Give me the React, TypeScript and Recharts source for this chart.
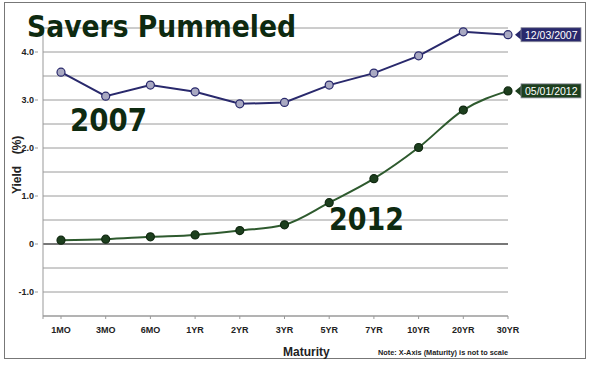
import React from 'react';
import { LineChart, Line, XAxis, YAxis, CartesianGrid, ReferenceLine, LabelList } from 'recharts';

const maturities = ['1MO', '3MO', '6MO', '1YR', '2YR', '3YR', '5YR', '7YR', '10YR', '20YR', '30YR'];
const yields2007 = [3.58, 3.08, 3.31, 3.17, 2.92, 2.95, 3.31, 3.56, 3.92, 4.42, 4.36];
const yields2012 = [0.08, 0.1, 0.15, 0.19, 0.28, 0.4, 0.86, 1.36, 2.01, 2.79, 3.19];
const yTicks = [-1.5, -1, -0.5, 0, 0.5, 1, 1.5, 2, 2.5, 3, 3.5, 4, 4.5];
const seriesDates = { y2007: '12/03/2007', y2012: '05/01/2012' };

const data = maturities.map((m, i) => ({ m, y2007: yields2007[i], y2012: yields2012[i] }));

const NAVY = '#29296c';
const GREEN_LINE = '#2e5a2e';
const GREEN_DARK = '#1d3f1e';
const TITLE = '#0e2a10';
const FONT = '"Liberation Sans", Arial, sans-serif';

const YTick = (props: any) => {
  const { x, y, payload } = props;
  const v = payload.value;
  if (!Number.isInteger(v)) return null;
  const label = v === 0 ? '0' : v.toFixed(1);
  return (
    <g>
      <line x1={x} x2={x + 3} y1={y} y2={y} stroke="#999" />
      <text x={x - 1} y={y + 3} textAnchor="end" fontSize={9} fontWeight="bold" fill="#222" fontFamily={FONT}>
        {label}
      </text>
    </g>
  );
};

const makeBadge = (label: string, color: string) => (props: any) => {
  const { x, y, index } = props;
  if (index !== maturities.length - 1) return null;
  return (
    <g>
      <path d={`M${x + 7},${y} L${x + 13},${y - 5} L${x + 13},${y + 5} Z`} fill={color} />
      <rect x={x + 13} y={y - 7} width={60} height={14} fill={color} stroke="#8a8a9a" strokeWidth={0.8} />
      <text x={x + 17} y={y + 4} fill="#fff" fontSize={10.5} fontFamily={FONT}>
        {label}
      </text>
    </g>
  );
};

export default function App() {
  return (
    <div style={{ position: 'absolute', left: 0, top: 0, width: 592, height: 367, background: '#fff' }}>
      <LineChart width={592} height={367} data={data} margin={{ top: 28, right: 84, left: 0, bottom: 21 }}>
        <CartesianGrid horizontal vertical={false} stroke="#9a9a9a" />
        <XAxis
          dataKey="m"
          padding={{ left: 18, right: 0 }}
          height={30}
          stroke="#999"
          tickSize={3}
          tickMargin={8}
          tick={{ fontSize: 9, fontWeight: 'bold', fill: '#222', fontFamily: FONT }}
          interval={0}
        />
        <YAxis
          width={43}
          domain={[-1.5, 4.5]}
          ticks={yTicks}
          type="number"
          stroke="#999"
          tickLine={false}
          tick={<YTick />}
          interval={0}
        />
        <ReferenceLine y={0} stroke="#222" strokeWidth={1.2} />
        <Line
          dataKey="y2007"
          type="linear"
          stroke={NAVY}
          strokeWidth={2}
          dot={{ r: 4, fill: '#a9a9c2', stroke: NAVY, strokeWidth: 1.2 }}
          isAnimationActive={false}
        >
          <LabelList dataKey="y2007" content={makeBadge(seriesDates.y2007, NAVY)} />
        </Line>
        <Line
          dataKey="y2012"
          type="monotone"
          stroke={GREEN_LINE}
          strokeWidth={2}
          dot={{ r: 4, fill: GREEN_DARK, stroke: '#102810', strokeWidth: 1.2 }}
          isAnimationActive={false}
        >
          <LabelList dataKey="y2012" content={makeBadge(seriesDates.y2012, GREEN_DARK)} />
        </Line>
      </LineChart>
      <svg width={592} height={367} style={{ position: 'absolute', left: 0, top: 0, pointerEvents: 'none' }}>
        <rect x={4.5} y={2.5} width={581} height={356} fill="none" stroke="#777" />
        <line x1={43} x2={43} y1={316} y2={319} stroke="#999" />
        <text x={27} y={37} fontSize={30} fontWeight="bold" fill={TITLE} fontFamily='"DejaVu Sans", sans-serif' textLength={269} lengthAdjust="spacingAndGlyphs">
          Savers Pummeled
        </text>
        <text x={70} y={131} fontSize={32} fontWeight="bold" fill={TITLE} fontFamily='"DejaVu Sans", sans-serif' textLength={77} lengthAdjust="spacingAndGlyphs">
          2007
        </text>
        <text x={329} y={230} fontSize={32} fontWeight="bold" fill={TITLE} fontFamily='"DejaVu Sans", sans-serif' textLength={75} lengthAdjust="spacingAndGlyphs">
          2012
        </text>
        <text transform="translate(21,180) rotate(-90)" textAnchor="middle" fontSize={12} fontWeight="bold" fill="#222" fontFamily={FONT}>
          Yield
        </text>
        <text transform="translate(21,145) rotate(-90)" textAnchor="middle" fontSize={12} fontWeight="bold" fill="#222" fontFamily={FONT}>
          (%)
        </text>
        <text x={283} y={356} fontSize={12} fontWeight="bold" fill="#222" fontFamily={FONT}>
          Maturity
        </text>
        <text x={378} y={355} fontSize={8} fontWeight="bold" fill="#222" fontFamily={FONT} textLength={130} lengthAdjust="spacingAndGlyphs">
          Note: X-Axis (Maturity) is not to scale
        </text>
      </svg>
    </div>
  );
}
